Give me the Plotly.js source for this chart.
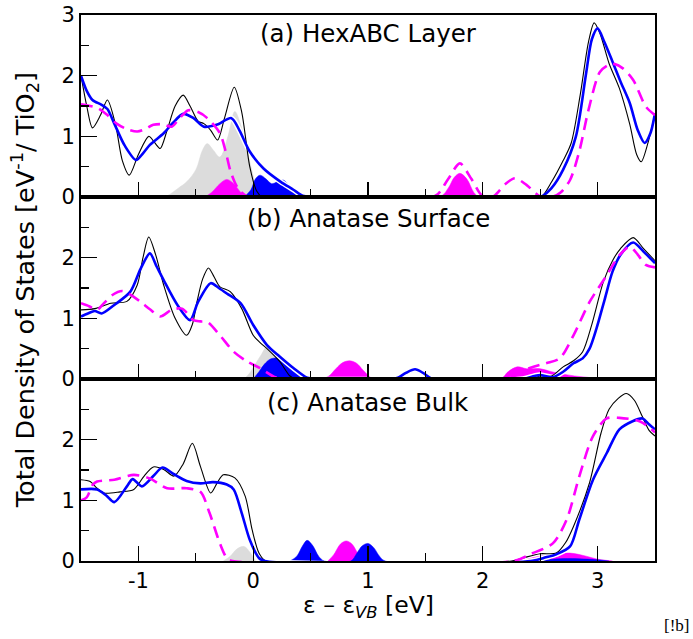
<!DOCTYPE html>
<html>
<head>
<meta charset="utf-8">
<script src="https://cdn.plot.ly/plotly-3.0.1.min.js"></script>
<style>html,body{margin:0;padding:0;background:#fff;}#chart{width:693px;height:639px;}</style>
</head>
<body>
<div id="chart"></div>
<script>
// ---------- Panel (a) HexABC Layer ----------
const aBlackX = [-1.5,-1.45,-1.40,-1.33,-1.27,-1.20,-1.14,-1.08,-1.0,-0.91,-0.86,-0.81,-0.75,-0.68,-0.61,-0.55,-0.48,-0.43,-0.37,-0.31,-0.25,-0.165,-0.1,-0.03,0.03,0.08,0.15,2.45,2.51,2.6,2.7,2.77,2.85,2.92,2.97,3.02,3.1,3.19,3.28,3.34,3.38,3.44,3.5];
const aBlackY = [2.0,1.5,1.14,1.35,1.60,1.2,0.6,0.36,0.7,1.0,0.9,0.80,1.1,1.5,1.68,1.5,1.25,1.21,1.1,0.94,1.3,1.81,1.4,0.5,0.1,0.0,0,0,0,0.25,0.6,0.89,1.7,2.55,2.87,2.7,2.2,1.79,1.2,0.7,0.58,0.9,1.38];
const aBlueX = [-1.5,-1.45,-1.40,-1.32,-1.27,-1.21,-1.12,-1.02,-0.96,-0.90,-0.78,-0.70,-0.61,-0.52,-0.43,-0.32,-0.19,-0.12,-0.03,0.09,0.24,0.35,0.43,0.5,2.5,2.6,2.7,2.81,2.90,2.95,3.0,3.06,3.13,3.2,3.28,3.35,3.41,3.46,3.5];
const aBlueY = [2.0,1.75,1.60,1.52,1.45,1.21,0.85,0.61,0.72,0.86,1.05,1.22,1.37,1.3,1.16,1.19,1.30,1.1,0.75,0.47,0.25,0.12,0.02,0,0,0.15,0.45,0.99,2.04,2.6,2.78,2.55,2.23,1.9,1.55,1.1,0.89,1.05,1.38];
const aMagX = [-1.5,-1.42,-1.35,-1.27,-1.19,-1.10,-1.01,-0.94,-0.87,-0.79,-0.71,-0.64,-0.565,-0.48,-0.40,-0.29,-0.24,-0.20,-0.15,-0.11,-0.05,0,1.55,1.61,1.7,1.80,1.9,1.99,2.05,2.10,2.2,2.28,2.38,2.5,2.6,2.68,2.76,2.84,2.92,3.02,3.1,3.15,3.22,3.31,3.42,3.5];
const aMagY = [1.53,1.5,1.46,1.35,1.21,1.12,1.08,1.12,1.19,1.2,1.16,1.3,1.43,1.4,1.30,1.05,0.75,0.44,0.2,0.09,0.01,0,0,0.05,0.3,0.555,0.3,0.03,0,0.02,0.22,0.31,0.2,0.01,0,0.08,0.28,0.75,1.43,2.06,2.18,2.19,2.12,1.93,1.49,1.35];
const aGrayX = [-0.8,-0.75,-0.65,-0.58,-0.50,-0.44,-0.40,-0.35,-0.29,-0.22,-0.16,-0.11,-0.055,0.0,0.03,0.07];
const aGrayY = [0,0.02,0.15,0.25,0.45,0.78,0.88,0.78,0.66,1.0,1.41,1.2,0.77,0.35,0.1,0];
const aPinkX = [-0.42,-0.36,-0.29,-0.23,-0.17,-0.11,-0.06,1.62,1.7,1.75,1.80,1.86,1.92,1.96];
const aPinkY = [0,0.08,0.22,0.29,0.22,0.08,0,0,0.15,0.32,0.39,0.3,0.08,0];
const aBlueFillX = [-0.08,-0.02,0.02,0.06,0.11,0.16,0.21,0.26,0.31,0.36,0.42];
const aBlueFillY = [0,0.12,0.3,0.36,0.3,0.22,0.25,0.28,0.2,0.08,0];

// ---------- Panel (b) Anatase Surface ----------
const bBlackX = [-1.5,-1.38,-1.24,-1.10,-1.01,-0.96,-0.91,-0.85,-0.78,-0.68,-0.58,-0.53,-0.49,-0.44,-0.39,-0.34,-0.29,-0.20,-0.10,0.0,0.06,0.12,0.23,0.32,0.37,2.4,2.5,2.6,2.7,2.79,2.87,2.95,3.05,3.13,3.2,3.31,3.4,3.5];
const bBlackY = [1.14,1.16,1.25,1.28,1.55,2.0,2.34,2.05,1.55,1.0,0.72,0.9,1.27,1.65,1.83,1.68,1.52,1.44,1.16,0.72,0.6,0.5,0.29,0.05,0,0,0.05,0.05,0.2,0.3,0.45,0.9,1.6,1.95,2.15,2.33,2.15,1.95];
const bBlueX = [-1.5,-1.44,-1.38,-1.32,-1.21,-1.07,-0.98,-0.90,-0.84,-0.78,-0.66,-0.55,-0.48,-0.37,-0.30,-0.23,-0.11,0.0,0.12,0.23,0.35,0.47,0.55,1.2,1.26,1.33,1.41,1.48,1.55,1.62,2.35,2.45,2.5,2.61,2.7,2.79,2.87,2.93,2.99,3.06,3.13,3.2,3.31,3.4,3.5];
const bBlueY = [1.03,1.08,1.12,1.08,1.22,1.44,1.82,2.07,1.85,1.63,1.22,0.97,1.27,1.58,1.5,1.41,1.25,0.89,0.56,0.37,0.18,0.02,0,0,0.02,0.1,0.16,0.1,0.01,0,0,0.05,0.065,0.03,0.12,0.26,0.34,0.5,0.83,1.3,1.77,2.05,2.25,2.1,1.91];
const bMagX = [-1.5,-1.43,-1.36,-1.30,-1.23,-1.14,-1.06,-0.98,-0.90,-0.81,-0.71,-0.62,-0.52,-0.46,-0.40,-0.29,-0.17,-0.055,0.06,0.18,0.26,2.2,2.29,2.41,2.55,2.67,2.79,2.93,3.08,3.19,3.28,3.35,3.42,3.5];
const bMagY = [1.25,1.2,1.14,1.25,1.38,1.45,1.38,1.27,1.15,1.03,1.14,1.16,0.97,0.95,0.94,0.72,0.45,0.29,0.18,0.04,0,0,0.065,0.18,0.26,0.34,0.72,1.27,1.71,2.04,2.18,2.05,1.88,1.84];
const bGrayX = [-0.08,-0.03,0.02,0.07,0.12,0.18,0.25,0.32,0.36];
const bGrayY = [0,0.1,0.25,0.4,0.53,0.4,0.2,0.03,0];
const bPinkX = [0.6,0.66,0.72,0.78,0.84,0.9,0.96,1.02,1.06,2.15,2.22,2.3,2.38,2.5,2.6,2.7,2.8,2.9,3.0,3.05];
const bPinkY = [0,0.05,0.17,0.27,0.30,0.26,0.14,0.03,0,0,0.12,0.2,0.17,0.17,0.12,0.08,0.05,0.03,0.01,0];
const bBlueFillX = [0.0,0.05,0.1,0.15,0.2,0.25,0.3,0.36,0.42,0.47];
const bBlueFillY = [0,0.12,0.25,0.33,0.35,0.36,0.3,0.17,0.05,0];

// ---------- Panel (c) Anatase Bulk ----------
const cBlackX = [-1.5,-1.42,-1.36,-1.30,-1.16,-1.04,-0.95,-0.87,-0.78,-0.69,-0.61,-0.53,-0.46,-0.37,-0.31,-0.26,-0.16,-0.07,-0.01,0.05,0.11,2.25,2.35,2.50,2.64,2.72,2.79,2.93,3.03,3.10,3.18,3.25,3.32,3.39,3.45,3.5];
const cBlackY = [1.34,1.31,1.2,1.12,1.14,1.18,1.40,1.55,1.51,1.40,1.6,1.94,1.56,1.12,1.3,1.42,1.37,1.07,0.52,0.13,0,0,0.05,0.12,0.13,0.3,0.57,1.29,2.11,2.5,2.68,2.76,2.65,2.38,2.15,2.06];
const cBlueX = [-1.5,-1.36,-1.28,-1.21,-1.10,-1.05,-0.97,-0.87,-0.79,-0.69,-0.58,-0.46,-0.35,-0.23,-0.17,-0.10,-0.03,0.05,0.1,2.42,2.55,2.64,2.76,2.84,2.96,3.08,3.19,3.3,3.39,3.45,3.5];
const cBlueY = [1.18,1.18,1.08,0.97,1.23,1.35,1.23,1.40,1.54,1.43,1.32,1.28,1.30,1.26,1.18,0.79,0.35,0.05,0,0,0.06,0.11,0.24,0.68,1.34,1.78,2.17,2.3,2.35,2.25,2.17];
const cMagX = [-1.5,-1.45,-1.40,-1.36,-1.21,-1.04,-0.90,-0.75,-0.58,-0.46,-0.38,-0.29,-0.23,-0.18,2.27,2.41,2.61,2.73,2.84,2.96,3.08,3.19,3.37,3.5];
const cMagY = [1.0,1.05,1.25,1.31,1.34,1.42,1.36,1.20,1.20,1.14,0.79,0.29,0.05,0,0,0.11,0.29,0.68,1.39,2.06,2.35,2.36,2.30,2.12];
const cGrayX = [-0.26,-0.2,-0.14,-0.08,-0.03,0.02];
const cGrayY = [0,0.08,0.2,0.24,0.15,0];
const cPinkX = [0.65,0.7,0.76,0.81,0.86,0.92,0.97,2.3,2.45,2.6,2.76,2.9,3.0,3.13];
const cPinkY = [0,0.1,0.28,0.33,0.28,0.1,0,0,0.06,0.11,0.13,0.08,0.03,0];
const cBlueFillX = [0.32,0.38,0.43,0.47,0.52,0.57,0.62,0.85,0.9,0.95,1.0,1.05,1.1,1.15,2.4,2.7,3.0,3.1];
const cBlueFillY = [0,0.08,0.25,0.34,0.25,0.08,0,0,0.12,0.25,0.29,0.22,0.08,0,0,0.04,0.02,0];

// ---------- axis labels ----------
const xTickVals = [-1,0,1,2,3];
const xTickText = ['-1','0','1','2','3'];
const xMinorVals = [-0.5,0.5,1.5,2.5];
const yTickVals = [0,1,2,3];
const yTickTextTop = ['0','1','2','3'];
const yTickTextLow = ['0','1','2',''];
const yMinorVals = [0.5,1.5,2.5];
const panelLabels = ['(a) HexABC Layer','(b) Anatase Surface','(c) Anatase Bulk'];

const GRAY = '#dcdcdc', MAG = '#ff00ff', BLUE = '#0000ff';

function panelTraces(ax, d) {
  const xa = ax === 1 ? 'x' : 'x' + ax, ya = ax === 1 ? 'y' : 'y' + ax;
  const base = {xaxis: xa, yaxis: ya, mode: 'lines', hoverinfo: 'skip', showlegend: false};
  return [
    Object.assign({}, base, {x: d.gx, y: d.gy, fill: 'tozeroy', fillcolor: GRAY, line: {color: GRAY, width: 0.5, shape: 'spline', smoothing: 1}}),
    Object.assign({}, base, {x: d.px, y: d.py, fill: 'tozeroy', fillcolor: MAG, line: {color: MAG, width: 0.5, shape: 'spline', smoothing: 1}}),
    Object.assign({}, base, {x: d.bfx, y: d.bfy, fill: 'tozeroy', fillcolor: BLUE, line: {color: BLUE, width: 0.5, shape: 'spline', smoothing: 1}}),
    Object.assign({}, base, {x: d.blx, y: d.bly, line: {color: '#ffffff', width: 5.5, shape: 'spline', smoothing: 0.8}}),
    Object.assign({}, base, {x: d.kx, y: d.ky, line: {color: '#000000', width: 1.1, shape: 'spline', smoothing: 0.8}}),
    Object.assign({}, base, {x: d.blx, y: d.bly, line: {color: BLUE, width: 2.6, shape: 'spline', smoothing: 0.8}}),
    Object.assign({}, base, {x: d.mx, y: d.my, line: {color: MAG, width: 2.6, dash: '12px,7px', shape: 'spline', smoothing: 0.8}})
  ];
}

const data = [].concat(
  panelTraces(1, {gx: aGrayX, gy: aGrayY, px: aPinkX, py: aPinkY, bfx: aBlueFillX, bfy: aBlueFillY, kx: aBlackX, ky: aBlackY, blx: aBlueX, bly: aBlueY, mx: aMagX, my: aMagY}),
  panelTraces(2, {gx: bGrayX, gy: bGrayY, px: bPinkX, py: bPinkY, bfx: bBlueFillX, bfy: bBlueFillY, kx: bBlackX, ky: bBlackY, blx: bBlueX, bly: bBlueY, mx: bMagX, my: bMagY}),
  panelTraces(3, {gx: cGrayX, gy: cGrayY, px: cPinkX, py: cPinkY, bfx: cBlueFillX, bfy: cBlueFillY, kx: cBlackX, ky: cBlackY, blx: cBlueX, bly: cBlueY, mx: cMagX, my: cMagY})
);

const FONT = 'DejaVu Sans, Liberation Sans, sans-serif';
function xAxis(anchor, showLabels) {
  return {
    anchor: anchor, range: [-1.5, 3.5], showgrid: false, zeroline: false,
    showline: true, linecolor: '#000', linewidth: 2, mirror: true,
    ticks: 'inside', ticklen: 15, tickwidth: 1.2, tickcolor: '#000',
    tickmode: 'array', tickvals: xTickVals, ticktext: xTickText,
    showticklabels: showLabels, tickfont: {family: FONT, size: 21, color: '#000'},
    minor: {tickmode: 'array', tickvals: xMinorVals, ticks: 'inside', ticklen: 8, tickwidth: 1.2, tickcolor: '#000', showgrid: false}
  };
}
function yAxis(anchor, domain, texts) {
  return {
    anchor: anchor, domain: domain, range: [0, 3], showgrid: false, zeroline: false,
    showline: true, linecolor: '#000', linewidth: 2, mirror: true,
    ticks: 'inside', ticklen: 16, tickwidth: 1.2, tickcolor: '#000',
    tickmode: 'array', tickvals: yTickVals, ticktext: texts,
    tickfont: {family: FONT, size: 21, color: '#000'},
    minor: {tickmode: 'array', tickvals: yMinorVals, ticks: 'inside', ticklen: 8, tickwidth: 1.2, tickcolor: '#000', showgrid: false}
  };
}

const layout = {
  width: 693, height: 639,
  margin: {l: 81, r: 38, t: 15, b: 78},
  paper_bgcolor: '#fff', plot_bgcolor: '#fff',
  font: {family: FONT, color: '#000'},
  xaxis: xAxis('y', false),
  xaxis2: xAxis('y2', false),
  xaxis3: xAxis('y3', true),
  yaxis: yAxis('x', [2/3, 1], yTickTextTop),
  yaxis2: yAxis('x2', [1/3, 2/3], yTickTextLow),
  yaxis3: yAxis('x3', [0, 1/3], yTickTextLow),
  annotations: [
    {text: panelLabels[0], xref: 'paper', yref: 'paper', x: 0.5, y: 0.967, xanchor: 'center', yanchor: 'middle', showarrow: false, font: {family: FONT, size: 24.5, color: '#000'}},
    {text: panelLabels[1], xref: 'paper', yref: 'paper', x: 0.5, y: 0.628, xanchor: 'center', yanchor: 'middle', showarrow: false, font: {family: FONT, size: 24.5, color: '#000'}},
    {text: panelLabels[2], xref: 'paper', yref: 'paper', x: 0.5, y: 0.291, xanchor: 'center', yanchor: 'middle', showarrow: false, font: {family: FONT, size: 24.5, color: '#000'}},
    {text: 'Total Density of States [eV<sup>-1</sup>/ TiO<sub>2</sub>]', xref: 'paper', yref: 'paper', x: 0, y: 0.496, xanchor: 'center', yanchor: 'middle', xshift: -57, textangle: -90, showarrow: false, font: {family: FONT, size: 25.5, color: '#000'}},
    {text: 'ε – ε<sub><i>VB</i></sub> [eV]', xref: 'paper', yref: 'paper', x: 0.5, y: 0, xanchor: 'center', yanchor: 'middle', yshift: -45, showarrow: false, font: {family: FONT, size: 23.5, color: '#000'}},
    {text: '[!b]', xref: 'paper', yref: 'paper', x: 1.037, y: 0, xanchor: 'center', yanchor: 'middle', yshift: -64, showarrow: false, font: {family: 'Liberation Serif, Times New Roman, serif', size: 17, color: '#000'}}
  ]
};

Plotly.newPlot('chart', data, layout, {staticPlot: true, displayModeBar: false});
</script>
</body>
</html>
